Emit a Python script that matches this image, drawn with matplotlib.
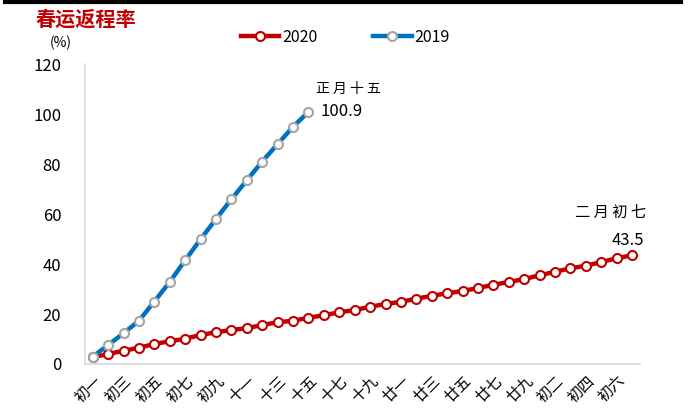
import matplotlib.pyplot as plt
import matplotlib.lines as mlines

plt.rcParams['font.family'] = ['Noto Sans CJK SC', 'DejaVu Sans']

# lunar day labels, 正月初一 .. 二月初七 (正月 2020 had 29 days)
days = ['初一', '初二', '初三', '初四', '初五', '初六', '初七', '初八', '初九', '初十',
        '十一', '十二', '十三', '十四', '十五', '十六', '十七', '十八', '十九', '二十',
        '廿一', '廿二', '廿三', '廿四', '廿五', '廿六', '廿七', '廿八', '廿九',
        '初一', '初二', '初三', '初四', '初五', '初六', '初七']

rate_2020 = [2.7, 4.0, 5.3, 6.5, 8.0, 9.1, 10.1, 11.6, 12.7, 13.6, 14.3, 15.6,
             16.7, 17.3, 18.5, 19.5, 20.7, 21.6, 22.9, 24.0, 24.9, 26.1, 27.3,
             28.3, 29.2, 30.4, 31.7, 32.8, 34.0, 35.5, 36.9, 38.3, 39.3, 40.8,
             42.3, 43.5]
rate_2019 = [2.9, 7.6, 12.3, 17.3, 25.0, 32.8, 41.5, 49.9, 58.0, 65.9, 73.5,
             81.0, 88.0, 94.9, 100.9]

red = '#C00000'
blue = '#0070C0'
grey = '#A5A5A5'

fig = plt.figure(figsize=(6.88, 4.16), dpi=100)
ax = fig.add_axes([0.1235, 0.125, 0.8065, 0.721])

x20 = list(range(len(rate_2020)))
x19 = list(range(len(rate_2019)))
ax.plot(x20, rate_2020, color=red, lw=3.2, marker='o', markersize=6.5,
        markerfacecolor='white', markeredgecolor=red, markeredgewidth=1.5, zorder=3)
ax.plot(x19, rate_2019, color=blue, lw=3.2, marker='o', markersize=6.5,
        markerfacecolor='white', markeredgecolor=grey, markeredgewidth=1.5, zorder=4)

ax.set_xlim(-0.5, len(days) - 0.5)
ax.set_ylim(0, 120)
ax.set_yticks(range(0, 121, 20))
ax.set_xticks(range(0, 35, 2))
ax.set_xticklabels(days[0:35:2], rotation=45, ha='right', rotation_mode='anchor',
                   fontsize=11)
ax.tick_params(axis='y', labelsize=12, length=0, pad=17)
ax.tick_params(axis='x', length=0, pad=6)
for s in ['top', 'right']:
    ax.spines[s].set_visible(False)
for s in ['left', 'bottom']:
    ax.spines[s].set_color('#D9D9D9')
    ax.spines[s].set_linewidth(1.2)

# end labels
ax.text(14.5, 110, '正 月 十 五', fontsize=10, ha='left', va='center')
ax.text(14.8, 101, '100.9', fontsize=12, ha='left', va='center')
ax.text(31.3, 60.5, '二 月 初 七', fontsize=11, ha='left', va='center')
ax.text(33.7, 49.5, '43.5', fontsize=12, ha='left', va='center')

# title, unit and legend
fig.text(0.051, 0.955, '春运返程率', color=red, fontsize=14.5, fontweight='bold',
         ha='left', va='center')
fig.text(0.073, 0.897, '(%)', fontsize=10, ha='left', va='center')
h20 = mlines.Line2D([], [], color=red, lw=3.2, marker='o', markersize=6.5,
                    markerfacecolor='white', markeredgecolor=red, markeredgewidth=1.5)
h19 = mlines.Line2D([], [], color=blue, lw=3.2, marker='o', markersize=6.5,
                    markerfacecolor='white', markeredgecolor=grey, markeredgewidth=1.5)
fig.legend([h20, h19], ['2020', '2019'], loc='center', bbox_to_anchor=(0.502, 0.91),
           ncol=2, frameon=False, fontsize=11.5, handlelength=2.4, handletextpad=0.2,
           columnspacing=3.5)

# rule across the top
fig.add_artist(mlines.Line2D([0.007, 0.99], [0.995, 0.995], color='black', lw=3,
                             transform=fig.transFigure))

fig.savefig('out.png', dpi=100)
